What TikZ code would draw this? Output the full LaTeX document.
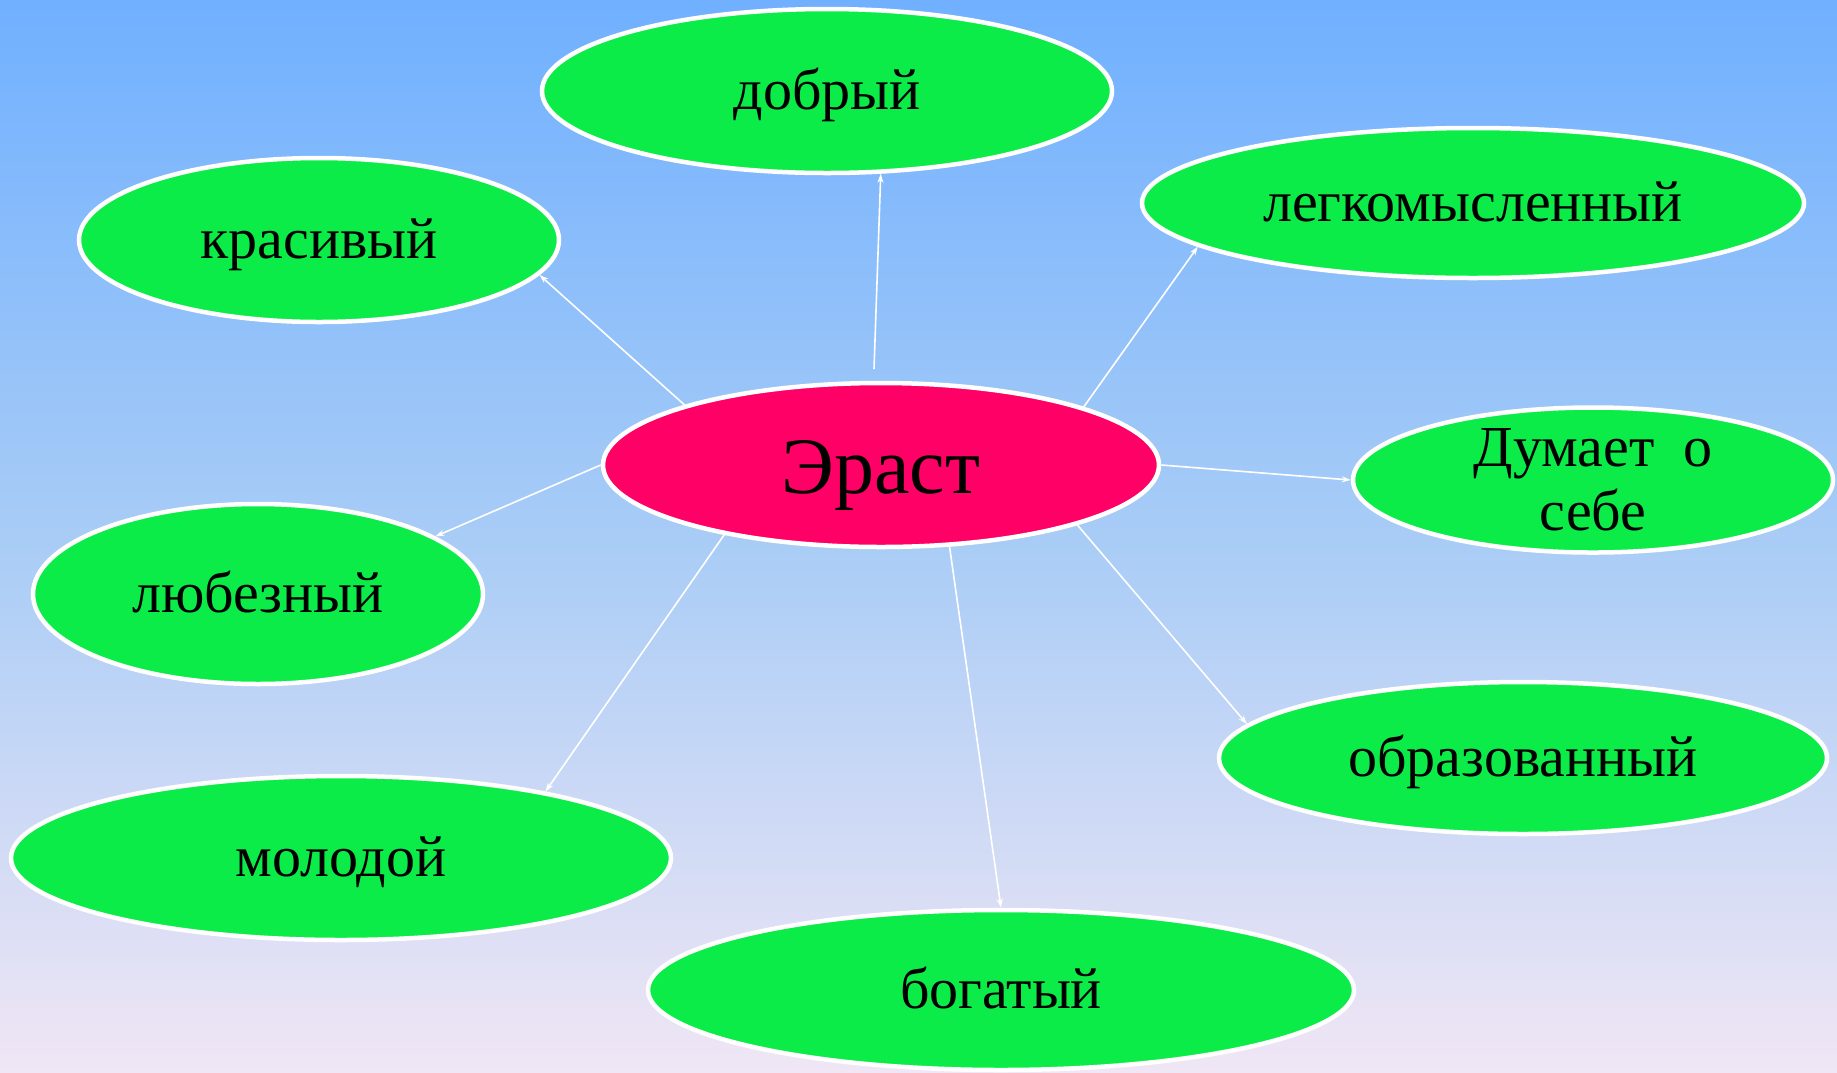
\documentclass[tikz,border=0pt]{standalone}
\usepackage{fontspec}
\setmainfont{Liberation Serif}
\usetikzlibrary{shapes.geometric,arrows.meta}
\definecolor{bgtop}{RGB}{112,176,255}
\definecolor{bgmid}{RGB}{168,204,246}
\definecolor{bgbot}{RGB}{240,230,245}
\definecolor{leaf}{RGB}{11,236,72}
\definecolor{hub}{RGB}{255,0,102}
\tikzset{
  bubble/.style={ellipse, draw=white, line width=4.5pt, fill=leaf, inner sep=0pt,
    font=\fontsize{58}{64}\selectfont, text=black, align=center},
  word/.style={bubble, text height=42pt, text depth=6pt},
  hubbox/.style={bubble, fill=hub, font=\fontsize{80}{84}\selectfont, text height=62pt, text depth=6pt},
  arr/.style={draw=white, line width=1.6pt, -{Stealth[length=9pt,width=6pt]}}
}
\begin{document}
\begin{tikzpicture}[x=1pt,y=-1pt]
\useasboundingbox (0,0) rectangle (1837,1072);
\shade[top color=bgtop, bottom color=bgbot, middle color=bgmid] (0,0) rectangle (1837,1072);

\node[hubbox, minimum width=556pt, minimum height=164pt] (er) at (881,465) {Эраст};

\node[word, minimum width=570pt, minimum height=164pt] (dobr) at (827,91) {добрый};
\node[word, minimum width=480pt, minimum height=164pt] (kras) at (319,240) {красивый};
\node[word, minimum width=662pt, minimum height=150pt] (legk) at (1473,203) {легкомысленный};
\node[bubble, minimum width=480pt, minimum height=136pt] (dum) at (1593,480) {Думает\ \ о\\себе};
\node[word, minimum width=450pt, minimum height=180pt] (lub) at (258,594) {любезный};
\node[word, minimum width=660pt, minimum height=164pt] (mol) at (341,858) {молодой};
\node[word, minimum width=706pt, minimum height=160pt] (bog) at (1001,990) {богатый};
\node[word, minimum width=608pt, minimum height=152pt] (obr) at (1523,758) {образованный};

\coordinate (s1) at (874,369);
\draw[arr] (s1) -- (dobr.-57);
\draw[arr] (er.163.6) -- (kras.-9.8);
\draw[arr] (er.16.4) -- (legk.189.5);
\draw[arr] (er.east) -- (dum.west);
\draw[arr] (er.west) -- (lub.18.3);
\draw[arr] (er.204.4) -- (mol.18.9);
\draw[arr] (er.-50.3) -- (bog.north);
\draw[arr] (er.-17.5) -- (obr.173.4);
\end{tikzpicture}
\end{document}
